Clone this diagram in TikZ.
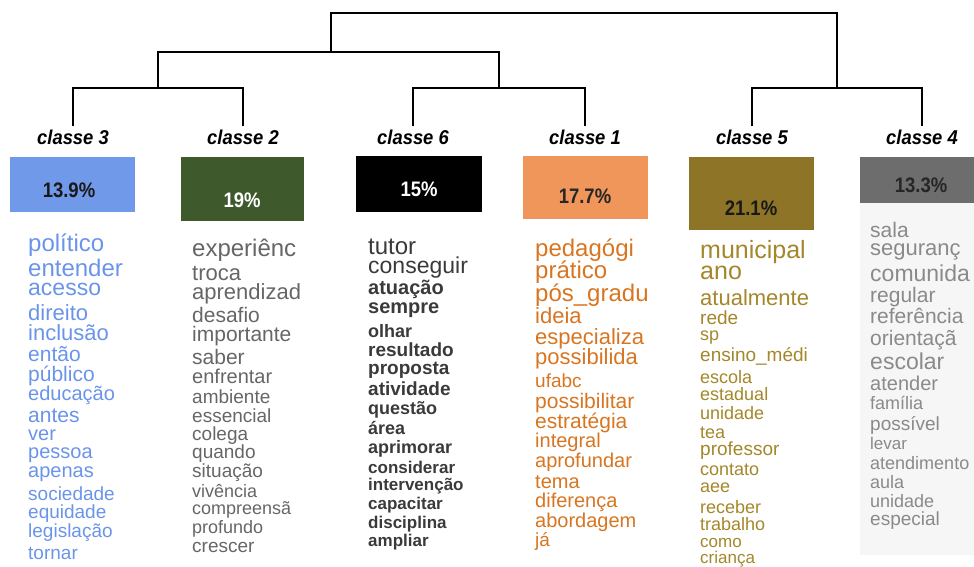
\documentclass[tikz,border=0pt]{standalone}
\usepackage{fontspec}
\setmainfont{Liberation Sans}
\usepackage{tikz}
\definecolor{wthree}{HTML}{6A94EA}
\definecolor{bthree}{HTML}{7199E9}
\definecolor{wtwo}{HTML}{666666}
\definecolor{btwo}{HTML}{3E5A2C}
\definecolor{wsix}{HTML}{3A3A3A}
\definecolor{wone}{HTML}{D87520}
\definecolor{bone}{HTML}{F0965B}
\definecolor{wfive}{HTML}{A3872A}
\definecolor{bfive}{HTML}{8D7426}
\definecolor{wfour}{HTML}{8A8A8A}
\definecolor{bfour}{HTML}{6D6D6D}
\definecolor{panelgray}{HTML}{F6F6F6}
\tikzset{
  dend/.style={line width=1.7pt,black},
  clabel/.style={anchor=base,inner sep=3pt,xscale=0.92,transform shape,font=\fontsize{20}{22}\selectfont\bfseries\itshape},
  pbox/.style={inner sep=0pt,draw=none},
  pct/.style={inner sep=0pt,xscale=0.88,transform shape,font=\fontsize{21}{23}\selectfont\bfseries},
  word/.style={anchor=base west,inner sep=0pt}
}

\begin{document}
\begin{tikzpicture}[x=1pt,y=-1pt]
  \useasboundingbox (0,0) rectangle (974,566);
  \fill[panelgray] (860,203) rectangle (974,555);

  % class boxes and percentages
  \node[pbox,fill=bthree,minimum width=125pt,minimum height=55pt] (box3) at (72.5,184.5) {};
  \node[pbox,fill=btwo,minimum width=123pt,minimum height=64pt] (box2) at (242.5,189) {};
  \node[pbox,fill=black,minimum width=126pt,minimum height=56pt] (box6) at (419,184) {};
  \node[pbox,fill=bone,minimum width=125pt,minimum height=63pt] (box1) at (585.5,187.5) {};
  \node[pbox,fill=bfive,minimum width=125pt,minimum height=73pt] (box5) at (751.5,193.5) {};
  \node[pbox,fill=bfour,minimum width=115pt,minimum height=46pt] (box4) at (917.5,180) {};
  \node[pct,text=black!90] (p3) at (69,190) {13.9\%};
  \node[pct,text=white] (p2) at (242,200) {19\%};
  \node[pct,text=white] (p6) at (419,189) {15\%};
  \node[pct,text=black!85] (p1) at (585,196) {17.7\%};
  \node[pct,text=black!90] (p5) at (751,208) {21.1\%};
  \node[pct,text=black!85] (p4) at (921,185) {13.3\%};

  % class labels
  \node[clabel] (lab3) at (73,144) {classe 3};
  \node[clabel] (lab2) at (243,144) {classe 2};
  \node[clabel] (lab6) at (413,144) {classe 6};
  \node[clabel] (lab1) at (585,144) {classe 1};
  \node[clabel] (lab5) at (752,144) {classe 5};
  \node[clabel] (lab4) at (922,144) {classe 4};

  % dendrogram
  \coordinate (j32) at (158,88);
  \coordinate (j61) at (499,88);
  \coordinate (j54) at (837,88);
  \coordinate (j3261) at (331,52);
  \coordinate (jroot) at (584,13);
  \draw[dend] (lab3.north) |- (j32) -| (lab2.north);
  \draw[dend] (lab6.north) |- (j61) -| (lab1.north);
  \draw[dend] (lab5.north) |- (j54) -| (lab4.north);
  \draw[dend] (j32) |- (j3261) -| (j61);
  \draw[dend] (j3261) |- (jroot) -| (j54);

  % word lists
  \foreach \yy/\sz/\wrd [count=\i] in {251/24/político,276/24/entender,295/23/acesso,320/22/direito,340/22/inclusão,361/21/então,381/21/público,400/20/educação,422/21/antes,440/20/ver,458/20/pessoa,477/20/apenas,500/19/sociedade,518/19/equidade,537/19/legislação,559/19/tornar}
    \node[word,text=wthree,font={\fontsize{\sz}{\sz}\selectfont}] (wa-\i) at (28,\yy) {\wrd};
  \foreach \yy/\sz/\wrd [count=\i] in {256/24/experiênc,280/22/troca,299/22/aprendizad,322/21/desafio,341/21/importante,364/21/saber,383/20/enfrentar,403/19/ambiente,422/19/essencial,440/19/colega,458/19/quando,477/19/situação,497/18/vivência,514/18/compreensã,533/18/profundo,552/19/crescer}
    \node[word,text=wtwo,font={\fontsize{\sz}{\sz}\selectfont}] (wb-\i) at (192,\yy) {\wrd};
  \node[word,text=wsix,font=\fontsize{24}{24}\selectfont] (wc-0) at (368,254) {tutor};
  \node[word,text=wsix,font=\fontsize{23}{23}\selectfont] (wc-00) at (368,273) {conseguir};
  \foreach \yy/\sz/\wrd [count=\i] in {294/20/atuação,313/20/sempre,337/18/olhar,356/19/resultado,374/19/proposta,395/19/atividade,414/18/questão,434/18/área,453/18/aprimorar,473/17/considerar,490/17/intervenção,509/17/capacitar,528/17/disciplina,546/17/ampliar}
    \node[word,text=wsix,font={\fontsize{\sz}{\sz}\selectfont\bfseries}] (wc-\i) at (368,\yy) {\wrd};
  \foreach \yy/\sz/\wrd [count=\i] in {256/24/pedagógi,278/24/prático,301/24/pós\_gradu,323/22/ideia,344/22/especializa,364/22/possibilida,387/19/ufabc,408/21/possibilitar,428/21/estratégia,447/20/integral,467/20/aprofundar,488/20/tema,507/20/diferença,527/20/abordagem,546/19/já}
    \node[word,text=wone,font={\fontsize{\sz}{\sz}\selectfont}] (wd-\i) at (535,\yy) {\wrd};
  \foreach \yy/\sz/\wrd [count=\i] in {258/25/municipal,279/25/ano,305/22/atualmente,324/19/rede,340/18/sp,361/19/ensino\_médi,383/18/escola,400/18/estadual,419/18/unidade,438/18/tea,455/19/professor,475/18/contato,492/18/aee,513/18/receber,530/18/trabalho,547/17/como,563/17/criança}
    \node[word,text=wfive,font={\fontsize{\sz}{\sz}\selectfont}] (we-\i) at (700,\yy) {\wrd};
  \foreach \yy/\sz/\wrd [count=\i] in {237/21/sala,255/22/seguranç,281/23/comunida,302/21/regular,323/21/referência,345/21/orientaçã,369/23/escolar,390/20/atender,409/18/família,430/19/possível,449/17/levar,469/18/atendimento,488/18/aula,507/18/unidade,525/19/especial}
    \node[word,text=wfour,font={\fontsize{\sz}{\sz}\selectfont}] (wf-\i) at (870,\yy) {\wrd};
\end{tikzpicture}
\end{document}
